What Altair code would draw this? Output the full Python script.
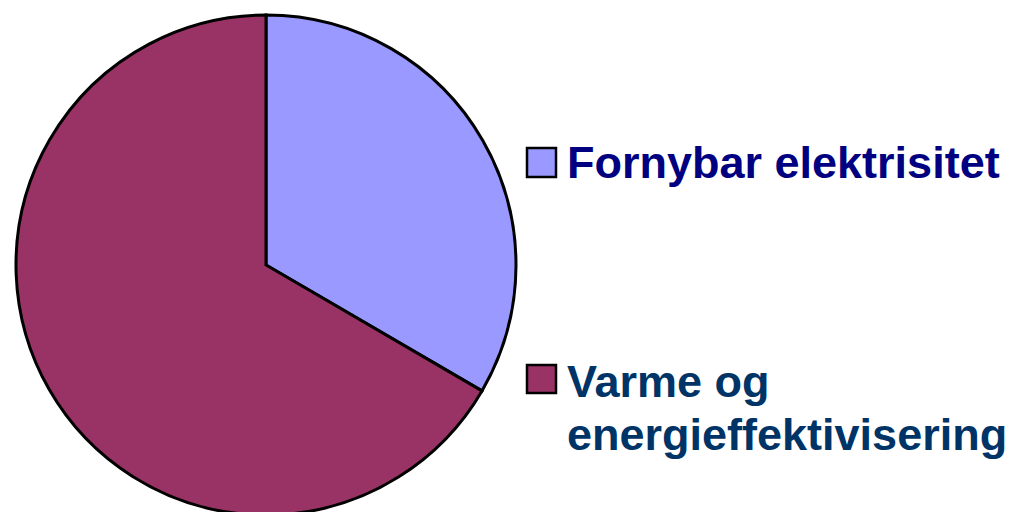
import altair as alt
import pandas as pd

categories = ["Fornybar elektrisitet", "Varme og energieffektivisering"]
legend_labels = ["Fornybar elektrisitet", "Varme og\nenergieffektivisering"]
shares = [33.4, 66.6]
slice_colors = ["#9999FF", "#993366"]
text_colors = ["#000080", "#003366"]

df = pd.DataFrame({
    "category": categories,
    "label": legend_labels,
    "share": shares,
    "rank": list(range(len(categories))),
})

W, H = 1010, 504
FONT = "Liberation Sans"

base = alt.Chart(df)

pie = base.mark_arc(outerRadius=250, stroke="black", strokeWidth=3).encode(
    theta=alt.Theta("share:Q", stack=True),
    color=alt.Color("category:N",
                    scale=alt.Scale(domain=categories, range=slice_colors),
                    legend=None),
    order=alt.Order("rank:Q"),
    x=alt.value(258),
    y=alt.value(257),
)

legend_pos = [
    {"y0": 140, "y1": 169, "ty": 170},
    {"y0": 357, "y1": 385, "ty": 389},
]

layers = [pie]
for i, cat in enumerate(categories):
    sub = base.transform_filter(alt.datum.category == cat)
    sq = sub.mark_rect(stroke="black", strokeWidth=2.5).encode(
        x=alt.value(519), x2=alt.value(548),
        y=alt.value(legend_pos[i]["y0"]), y2=alt.value(legend_pos[i]["y1"]),
        color=alt.Color("category:N",
                        scale=alt.Scale(domain=categories, range=slice_colors),
                        legend=None),
    )
    tx = sub.mark_text(
        align="left", baseline="alphabetic", font=FONT, fontWeight="bold",
        fontSize=45, lineBreak="\n", lineHeight=53, color=text_colors[i],
    ).encode(
        x=alt.value(559), y=alt.value(legend_pos[i]["ty"]),
        text="label:N",
    )
    layers += [sq, tx]

chart = alt.layer(*layers).properties(
    width=W, height=H,
    autosize=alt.AutoSizeParams(type="none"),
    padding=0,
).configure_view(stroke=None)

chart.save("out.html", embed_options={"renderer": "svg", "actions": False})
